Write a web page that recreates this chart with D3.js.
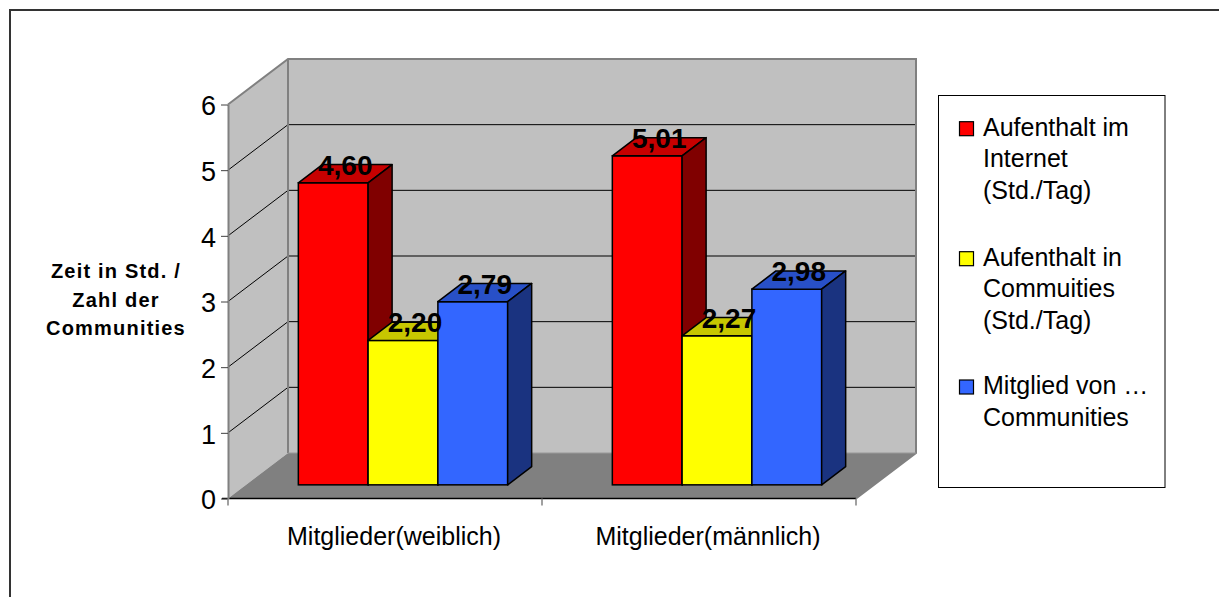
<!DOCTYPE html>
<html>
<head>
<meta charset="utf-8">
<script src="https://cdn.jsdelivr.net/npm/d3@7"></script>
<style>
  html, body { margin: 0; padding: 0; background: #fff; }
  svg { display: block; font-family: "Liberation Sans", Arial, sans-serif; }
</style>
</head>
<body>
<svg id="chart" width="1219" height="597"></svg>
<script>
// ---- data ----
const categories = ["Mitglieder(weiblich)", "Mitglieder(männlich)"];
const seriesKeys = ["internet", "communities", "mitglied"];
const internetValues = [4.60, 5.01];
const communitiesValues = [2.20, 2.27];
const mitgliedValues = [2.79, 2.98];
const legendLines = [
  ["Aufenthalt im", "Internet", "(Std./Tag)"],
  ["Aufenthalt in", "Commuities", "(Std./Tag)"],
  ["Mitglied von …", "Communities"]
];
const yTicks = [0, 1, 2, 3, 4, 5, 6];
const yTitleLines = ["Zeit in Std. /", "Zahl der", "Communities"];
const seriesColors = ["#ff0000", "#ffff00", "#3366ff"];

const valuesBySeries = [internetValues, communitiesValues, mitgliedValues];

// ---- layout ----
const svg = d3.select("#chart");
const DX = 60, DY = -45.5;           // 3D depth offset
const F0 = 0.30, F1 = 0.70;           // bar depth fractions
const y = d3.scaleLinear().domain([0, 6]).range([498.5, 104.5]);
const x = d3.scaleBand().domain(categories).range([228, 856]).paddingInner(0).paddingOuter(0);
const xs = d3.scaleBand().domain(seriesKeys).range([0, x.bandwidth()]).paddingInner(0).paddingOuter(0.75);
const fmt = v => d3.format(".2f")(v).replace(".", ",");
const shade = (c, k) => { const r = d3.rgb(c); return d3.rgb(r.r * k, r.g * k, r.b * k).toString(); };

// outer frame
svg.append("rect").attr("x", 10).attr("y", 10).attr("width", 1230).attr("height", 620)
  .attr("fill", "none").attr("stroke", "#333").attr("stroke-width", 2);

const x0 = x.range()[0], x1 = x.range()[1];
const yb = y(0), yt = y(6);

// walls
svg.append("polygon")
  .attr("points", [[x0 + DX, yt + DY], [x1 + DX, yt + DY], [x1 + DX, yb + DY], [x0 + DX, yb + DY]].join(" "))
  .attr("fill", "#c0c0c0");
svg.append("polygon")
  .attr("points", [[x0, yt], [x0 + DX, yt + DY], [x0 + DX, yb + DY], [x0, yb]].join(" "))
  .attr("fill", "#c0c0c0");
// floor
svg.append("polygon")
  .attr("points", [[x0, yb], [x1, yb], [x1 + DX, yb + DY], [x0 + DX, yb + DY]].join(" "))
  .attr("fill", "#808080");

// gridlines
const grid = yTicks.filter(v => v > 0 && v < 6);
svg.append("g").selectAll("line.gb").data(grid).join("line")
  .attr("x1", x0 + DX).attr("x2", x1 + DX)
  .attr("y1", d => y(d) + DY).attr("y2", d => y(d) + DY)
  .attr("stroke", "#000").attr("stroke-width", 1);
svg.append("g").selectAll("line.gl").data(grid).join("line")
  .attr("x1", x0).attr("x2", x0 + DX)
  .attr("y1", d => y(d)).attr("y2", d => y(d) + DY)
  .attr("stroke", "#000").attr("stroke-width", 1);

// wall edges
svg.append("polyline")
  .attr("points", [[x0, yt], [x0 + DX, yt + DY], [x1 + DX, yt + DY], [x1 + DX, yb + DY], [x1, yb]].join(" "))
  .attr("fill", "none").attr("stroke", "#808080").attr("stroke-width", 2);
svg.append("line")
  .attr("x1", x0 + DX).attr("x2", x0 + DX).attr("y1", yt + DY).attr("y2", yb + DY)
  .attr("stroke", "#808080").attr("stroke-width", 2);
svg.append("line")
  .attr("x1", x0 + DX).attr("x2", x1 + DX).attr("y1", yb + DY).attr("y2", yb + DY)
  .attr("stroke", "#999").attr("stroke-width", 1);
// floor front edge
svg.append("line").attr("x1", x0 - 6).attr("x2", x1).attr("y1", yb).attr("y2", yb)
  .attr("stroke", "#000").attr("stroke-width", 1.5);

// y axis
const yAxis = svg.append("g").attr("transform", `translate(${x0},0)`)
  .call(d3.axisLeft(y).tickValues(yTicks).tickFormat(d3.format("d")).tickSize(7).tickSizeOuter(0).tickPadding(5));
yAxis.select(".domain").attr("stroke", "#808080").attr("stroke-width", 2);
yAxis.selectAll(".tick line").attr("stroke", "#404040");
yAxis.selectAll(".tick text").attr("font-size", 27).attr("fill", "#000")
  .attr("font-family", "'Liberation Sans', Arial, sans-serif").attr("dy", "0.38em");

// x axis: boundary ticks + labels
const bounds = [x0, ...categories.map(c => x(c) + x.bandwidth())];
svg.append("g").selectAll("line").data(bounds).join("line")
  .attr("x1", d => d).attr("x2", d => d).attr("y1", yb).attr("y2", yb + 7)
  .attr("stroke", "#808080").attr("stroke-width", 1.5);
svg.append("g").selectAll("text").data(categories).join("text")
  .attr("x", d => x(d) + x.bandwidth() / 2 + 9).attr("y", 545)
  .attr("text-anchor", "middle").attr("font-size", 25).attr("fill", "#000")
  .text(d => d);

// bars
const bw = xs.bandwidth();
const bdx = (F1 - F0) * DX, bdy = (F1 - F0) * DY;
categories.forEach((cat, ci) => {
  seriesKeys.forEach((key, si) => {
    const v = valuesBySeries[si][ci];
    const col = seriesColors[si];
    const fx = x(cat) + xs(key) + F0 * DX;
    const fyTop = y(v) + F0 * DY;
    const fyBot = y(0) + F0 * DY;
    const g = svg.append("g");
    g.append("rect").attr("x", fx).attr("y", fyTop).attr("width", bw).attr("height", fyBot - fyTop)
      .attr("fill", col).attr("stroke", "#000").attr("stroke-width", 1.5);
    g.append("polygon")
      .attr("points", [[fx, fyTop], [fx + bw, fyTop], [fx + bw + bdx, fyTop + bdy], [fx + bdx, fyTop + bdy]].join(" "))
      .attr("fill", shade(col, 0.78)).attr("stroke", "#000").attr("stroke-width", 1.5).attr("stroke-linejoin", "round");
    g.append("polygon")
      .attr("points", [[fx + bw, fyTop], [fx + bw + bdx, fyTop + bdy], [fx + bw + bdx, fyBot + bdy], [fx + bw, fyBot]].join(" "))
      .attr("fill", shade(col, 0.5)).attr("stroke", "#000").attr("stroke-width", 1.5).attr("stroke-linejoin", "round");
  });
});
// value labels (on top of all bars)
categories.forEach((cat, ci) => {
  seriesKeys.forEach((key, si) => {
    const v = valuesBySeries[si][ci];
    const fx = x(cat) + xs(key) + F0 * DX;
    const fyTop = y(v) + F0 * DY;
    svg.append("text")
      .attr("x", fx + bw / 2 + bdx / 2).attr("y", fyTop + bdy / 2 + 1)
      .attr("text-anchor", "middle").attr("font-size", 28).attr("font-weight", "bold")
      .attr("fill", "#000").text(fmt(v));
  });
});

// y title
svg.append("g").selectAll("text").data(yTitleLines).join("text")
  .attr("x", 116).attr("y", (d, i) => 278 + i * 28.5)
  .attr("text-anchor", "middle").attr("font-size", 20).attr("font-weight", "bold")
  .attr("letter-spacing", 1.2).attr("fill", "#000").text(d => d);

// legend
const lg = svg.append("g");
lg.append("rect").attr("x", 938.5).attr("y", 95.5).attr("width", 226.5).attr("height", 392)
  .attr("fill", "#fff").attr("stroke", "#000").attr("stroke-width", 1);
const entryY = [135.7, 265.7, 394];
legendLines.forEach((lines, i) => {
  lg.append("rect").attr("x", 959.5).attr("y", entryY[i] - 14).attr("width", 14).attr("height", 14)
    .attr("fill", seriesColors[i]).attr("stroke", "#000").attr("stroke-width", 1.2);
  lg.append("g").selectAll("text").data(lines).join("text")
    .attr("x", 983).attr("y", (d, j) => entryY[i] + j * 31.5)
    .attr("font-size", 25).attr("fill", "#000").text(d => d);
});
</script>
</body>
</html>
